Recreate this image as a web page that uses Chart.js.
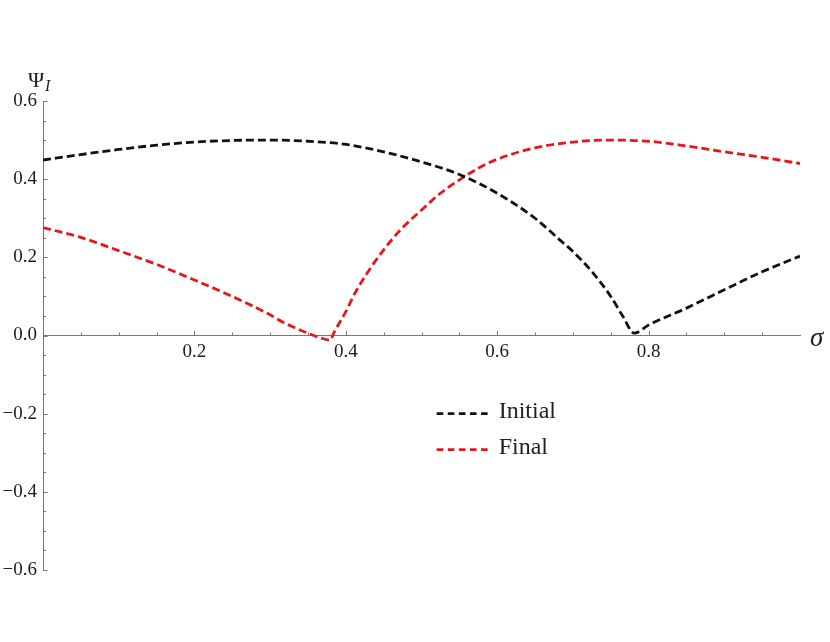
<html>
<head>
<script src="https://cdn.jsdelivr.net/npm/chart.js@4"></script>
<style>
	body { margin: 0; background: #fff; }
</style>
</head>
<body>
<canvas id="myChart" width="830" height="642"></canvas>
<script>
	// values
	var sigmaInitial = [0, 0.05, 0.1, 0.15, 0.2, 0.25, 0.3, 0.35, 0.4, 0.45, 0.5, 0.55, 0.6, 0.65, 0.683, 0.7, 0.727, 0.75, 0.766, 0.781, 0.8, 0.85, 0.9, 0.95, 1.0];
	var psiInitial   = [0.449, 0.463, 0.476, 0.487, 0.495, 0.499, 0.5, 0.497, 0.489, 0.47, 0.444, 0.412, 0.364, 0.3, 0.244, 0.215, 0.159, 0.1, 0.049, 0.006, 0.027, 0.07, 0.117, 0.163, 0.203];

	var sigmaFinal = [0, 0.05, 0.1, 0.15, 0.2, 0.25, 0.3, 0.317, 0.335, 0.35, 0.365, 0.379, 0.385, 0.4, 0.412, 0.428, 0.45, 0.472, 0.5, 0.525, 0.55, 0.575, 0.6, 0.65, 0.7, 0.75, 0.8, 0.85, 0.9, 0.95, 1.0];
	var psiFinal   = [0.276, 0.251, 0.217, 0.182, 0.142, 0.1, 0.053, 0.034, 0.018, 0.006, -0.005, -0.012, 0.01, 0.061, 0.108, 0.159, 0.219, 0.27, 0.321, 0.364, 0.398, 0.428, 0.451, 0.48, 0.495, 0.5, 0.497, 0.485, 0.47, 0.456, 0.44];

	var seriesNames = ['Initial', 'Final'];
	var seriesColors = ['#111111', 'rgb(232, 22, 26)'];

	function toPoints(xs, ys) {
		var pts = [];
		for (var i = 0; i < xs.length; ++i) {
			pts.push({x: xs[i], y: ys[i]});
		}
		return pts;
	}

	function isMajor(v) {
		return Math.abs(v * 5 - Math.round(v * 5)) < 1e-6;
	}

	var serif = '"Liberation Serif", "Times New Roman", "DejaVu Serif", serif';
	var axisGray = '#777';

	// small inward tick marks like the original (major every 0.2, minor every 0.05)
	var tickMarks = {
		id: 'tickMarks',
		beforeDatasetsDraw: function(chart) {
			var ctx = chart.ctx;
			var xs = chart.scales.x, ys = chart.scales.y;
			var y0 = ys.getPixelForValue(0);
			var x0 = chart.chartArea.left;
			ctx.save();
			ctx.strokeStyle = axisGray;
			ctx.lineWidth = 1;
			ctx.beginPath();
			xs.ticks.forEach(function(t) {
				if (t.value <= 0 || t.value >= 1) return;
				var px = Math.round(xs.getPixelForValue(t.value)) + 0.5;
				var len = isMajor(t.value) ? 4.5 : 3;
				ctx.moveTo(px, y0);
				ctx.lineTo(px, y0 - len);
			});
			ys.ticks.forEach(function(t) {
				var py = Math.round(ys.getPixelForValue(t.value)) + 0.5;
				var len = isMajor(t.value) ? 4.5 : 3;
				ctx.moveTo(x0, py);
				ctx.lineTo(x0 + len, py);
			});
			ctx.stroke();
			ctx.restore();
		}
	};

	// axis titles and the legend box
	var labelsAndLegend = {
		id: 'labelsAndLegend',
		afterDraw: function(chart) {
			var ctx = chart.ctx;
			var area = chart.chartArea;
			var xs = chart.scales.x, ys = chart.scales.y;
			var y0 = ys.getPixelForValue(0);
			ctx.save();
			ctx.fillStyle = '#222';
			ctx.textBaseline = 'alphabetic';
			ctx.textAlign = 'left';
			ctx.font = '22px ' + serif;
			ctx.fillText('\u03A8', area.left - 15, area.top - 14);
			ctx.font = 'italic 16px ' + serif;
			ctx.fillText('I', area.left + 2, area.top - 10);
			ctx.font = 'italic 27px ' + serif;
			ctx.fillText('\u03C3', area.right + 10, y0 + 10);

			var lx = xs.getPixelForValue(0.52);
			var ly = ys.getPixelForValue(-0.2);
			chart.data.datasets.forEach(function(ds, i) {
				var yy = ly + i * 36;
				ctx.strokeStyle = ds.borderColor;
				ctx.lineWidth = ds.borderWidth;
				ctx.setLineDash([6.6, 4.5]);
				ctx.beginPath();
				ctx.moveTo(lx, yy);
				ctx.lineTo(lx + 51, yy);
				ctx.stroke();
				ctx.setLineDash([]);
				ctx.fillStyle = '#222';
				ctx.font = '24px ' + serif;
				ctx.textBaseline = 'middle';
				ctx.fillText(ds.label, lx + 62, yy - 2);
			});
			ctx.restore();
		}
	};

	function draw() {
		var ctx = document.getElementById('myChart').getContext('2d');
		var chart = new Chart(ctx, {
			type: 'line',
			data: {
				datasets: [{
					label: seriesNames[0],
					data: toPoints(sigmaInitial, psiInitial),
					borderColor: seriesColors[0],
					borderWidth: 2.8,
					borderDash: [8, 4],
					pointRadius: 0,
					fill: false,
					cubicInterpolationMode: 'monotone'
				}, {
					label: seriesNames[1],
					data: toPoints(sigmaFinal, psiFinal),
					borderColor: seriesColors[1],
					borderWidth: 2.8,
					borderDash: [8, 4],
					pointRadius: 0,
					fill: false,
					cubicInterpolationMode: 'monotone'
				}]
			},
			options: {
				responsive: false,
				animation: false,
				devicePixelRatio: 1,
				layout: { padding: { top: 101, bottom: 72, left: 0, right: 30 } },
				plugins: { legend: { display: false }, tooltip: { enabled: false } },
				scales: {
					x: {
						type: 'linear',
						min: 0,
						max: 1,
						position: { y: 0 },
						grid: { drawOnChartArea: false, drawTicks: false },
						border: { color: axisGray, width: 1 },
						ticks: {
							stepSize: 0.05,
							autoSkip: false,
							maxRotation: 0,
							padding: 5,
							color: '#1a1a1a',
							font: { family: serif, size: 19 },
							callback: function(v) {
								if (v <= 0 || v >= 1 || !isMajor(v)) return '';
								return v.toFixed(1);
							}
						}
					},
					y: {
						type: 'linear',
						min: -0.6,
						max: 0.6,
						position: 'left',
						afterFit: function(scale) { scale.width = 43; },
						grid: { drawOnChartArea: false, drawTicks: false },
						border: { color: axisGray, width: 1 },
						ticks: {
							stepSize: 0.05,
							autoSkip: false,
							padding: 6,
							color: '#1a1a1a',
							font: { family: serif, size: 19 },
							callback: function(v) {
								if (!isMajor(v)) return '';
								return v.toFixed(1).replace('-', '\u2212');
							}
						}
					}
				}
			},
			plugins: [tickMarks, labelsAndLegend]
		});
	}

	// make sure the serif face is ready before the canvas text is drawn
	if (document.fonts && document.fonts.load) {
		Promise.all([
			document.fonts.load('19px "Liberation Serif"'),
			document.fonts.load('italic 19px "Liberation Serif"')
		]).then(draw, draw);
	} else {
		draw();
	}
</script>
</body>
</html>
